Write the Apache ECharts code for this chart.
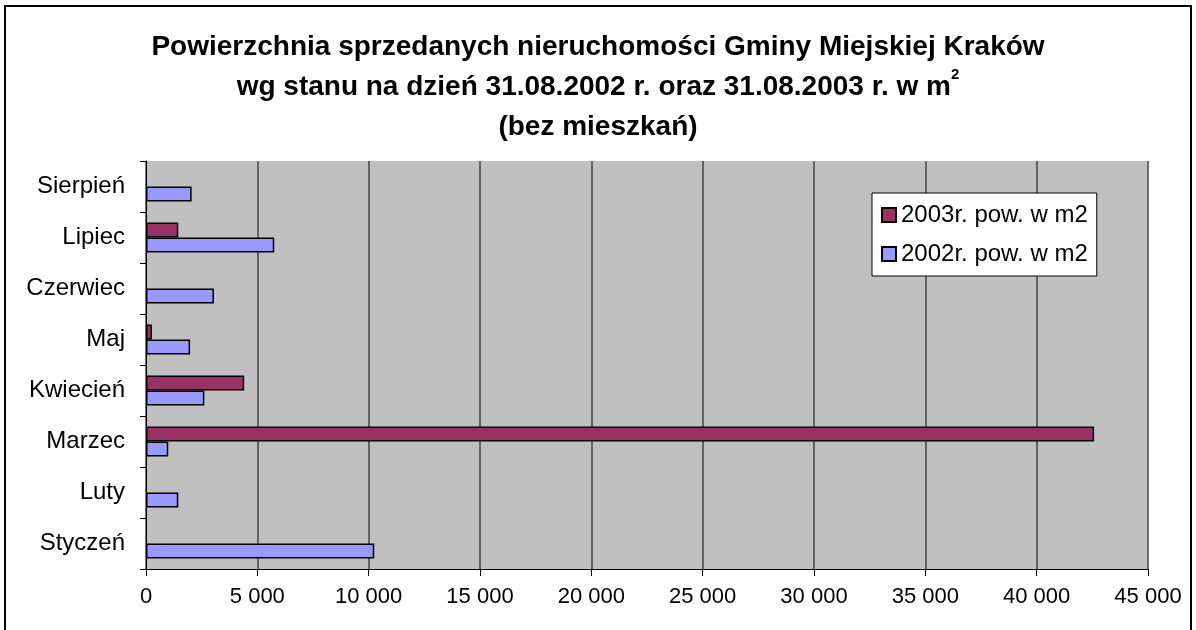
<!DOCTYPE html>
<html>
<head>
<meta charset="utf-8">
<script src="https://cdn.jsdelivr.net/npm/echarts@6/dist/echarts.min.js"></script>
<style>
  html, body { margin: 0; padding: 0; background: #fff; }
  #chart { width: 1196px; height: 630px; }
</style>
</head>
<body>
<div id="chart"></div>
<script>
const months = ['Styczeń', 'Luty', 'Marzec', 'Kwiecień', 'Maj', 'Czerwiec', 'Lipiec', 'Sierpień']
const area2002 = [10250, 1450, 1000, 2620, 1980, 3050, 5760, 2050]
const area2003 = [null, null, 42580, 4410, 270, null, 1450, null]
const seriesNames = ['2003r. pow. w m2', '2002r. pow. w m2']

const fmt = v => String(v).replace(/\B(?=(\d{3})+(?!\d))/g, ' ')

const chart = echarts.init(document.getElementById('chart'))
chart.setOption({
  animation: false,
  textStyle: { fontFamily: 'Liberation Sans, Arial, sans-serif', color: '#000' },
  title: {
    text: 'Powierzchnia sprzedanych nieruchomości Gminy Miejskiej Kraków\nwg stanu na dzień 31.08.2002 r. oraz 31.08.2003 r. w m{sup|2}\n(bez mieszkań)',
    left: 'center', top: 27, padding: 0,
    textStyle: {
      fontSize: 28, fontWeight: 'bold', lineHeight: 40, color: '#000',
      rich: { sup: { fontSize: 15, fontWeight: 'bold', padding: [0, 0, 24, 0] } }
    }
  },
  graphic: [{
    type: 'rect', silent: true,
    shape: { x: 5, y: 6, width: 1186, height: 640 },
    style: { fill: 'none', stroke: '#000', lineWidth: 2 }
  }],
  legend: {
    data: seriesNames, orient: 'vertical', left: 872, top: 193,
    padding: [10, 9, 10, 9], itemGap: 15,
    backgroundColor: '#fff', borderColor: '#000', borderWidth: 1,
    itemWidth: 14, itemHeight: 14, icon: 'rect',
    textStyle: { fontSize: 24, color: '#000' }
  },
  grid: { left: 146, right: 48, top: 161, bottom: 61, backgroundColor: '#c0c0c0', show: true, borderWidth: 0 },
  xAxis: {
    type: 'value', min: 0, max: 45000, interval: 5000,
    axisLine: { show: true, lineStyle: { color: '#000' } },
    axisTick: { show: true, length: 7, lineStyle: { color: '#000' } },
    axisLabel: { fontSize: 22, color: '#000', margin: 17, formatter: fmt },
    splitLine: { show: true, lineStyle: { color: '#444', width: 1.5 } }
  },
  yAxis: {
    type: 'category', data: months,
    axisLine: { show: true, lineStyle: { color: '#000' } },
    axisTick: { show: true, inside: false, length: 6, lineStyle: { color: '#000' } },
    axisLabel: { fontSize: 24, color: '#000', margin: 21 },
    splitLine: { show: false }
  },
  series: [
    { name: seriesNames[0], type: 'bar', data: area2003, barWidth: 15, barGap: '0%',
      itemStyle: { color: '#993366', borderColor: '#000', borderWidth: 1.5 } },
    { name: seriesNames[1], type: 'bar', data: area2002, barWidth: 15, barGap: '0%',
      itemStyle: { color: '#9999ff', borderColor: '#000', borderWidth: 1.5 } }
  ]
})
</script>
</body>
</html>
